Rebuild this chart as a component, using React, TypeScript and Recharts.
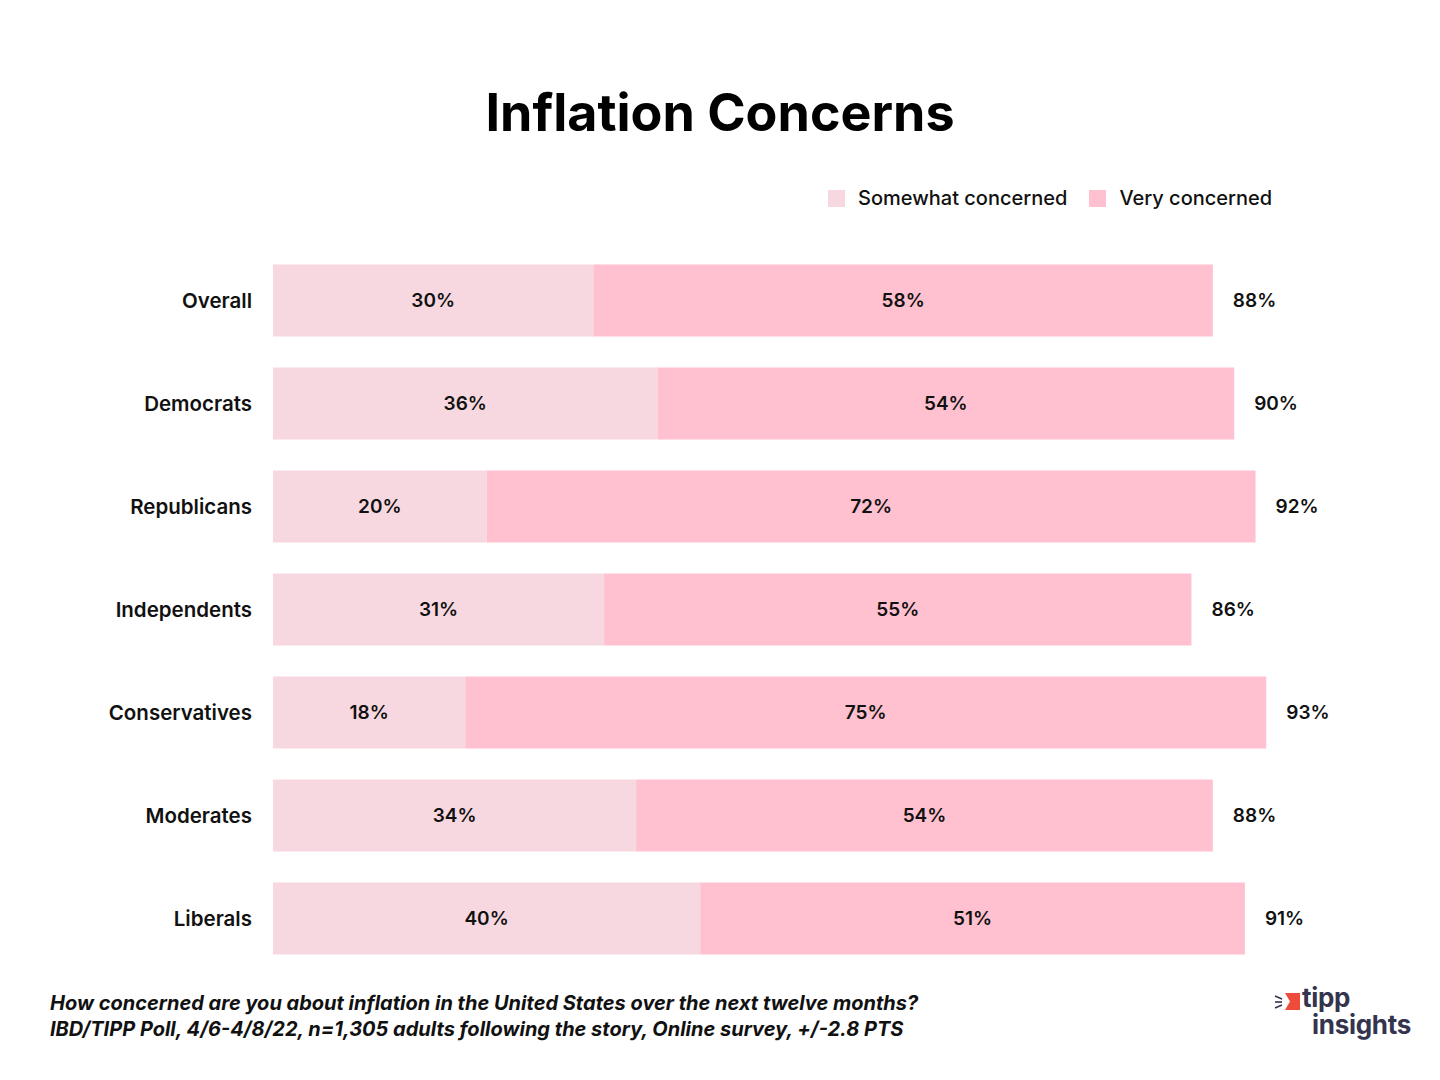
import React from 'react';
import { BarChart, Bar, XAxis, YAxis, LabelList, Legend } from 'recharts';

// Valores
const categories = ['Overall', 'Democrats', 'Republicans', 'Independents', 'Conservatives', 'Moderates', 'Liberals'];
const somewhat = [30, 36, 20, 31, 18, 34, 40];
const very = [58, 54, 72, 55, 75, 54, 51];
const totals = [88, 90, 92, 86, 93, 88, 91];

const colors = {
  somewhat: '#F8D8E0',
  very: '#FFC0CF',
  text: '#111111',
  logo: '#34344e',
  logoRed: '#EE4B3B',
};

const font = 'Inter, "Open Sans", sans-serif';

const data = categories.map((name, i) => ({
  name,
  somewhat: somewhat[i],
  very: very[i],
  total: totals[i],
}));

const legendItems = [
  { label: 'Somewhat concerned', color: colors.somewhat },
  { label: 'Very concerned', color: colors.very },
];

const LegendContent = () => (
  <div style={{ display: 'flex', alignItems: 'center', fontFamily: font, fontSize: 20, fontWeight: 500, color: colors.text, whiteSpace: 'nowrap' }}>
    {legendItems.map((item, i) => (
      <div key={i} style={{ display: 'flex', alignItems: 'center', marginLeft: i ? 22 : 0 }}>
        <span style={{ width: 17, height: 17, background: item.color, display: 'inline-block', marginRight: 13 }} />
        <span>{item.label}</span>
      </div>
    ))}
  </div>
);

const pct = (v: any) => `${v}%`;
const labelStyle = { fontSize: 19, fontWeight: 600, fill: colors.text, fontFamily: font };

export default function App() {
  return (
    <div style={{ position: 'absolute', left: 0, top: 0, width: 1440, height: 1080, background: '#fff', fontFamily: font }}>
      <div
        style={{
          position: 'absolute',
          top: 81,
          left: 0,
          width: 1440,
          textAlign: 'center',
          fontSize: 52,
          fontWeight: 700,
          color: '#000',
          lineHeight: '64px',
        }}
      >
        Inflation Concerns
      </div>

      <BarChart
        width={1440}
        height={1080}
        data={data}
        layout="vertical"
        barCategoryGap="15%"
        margin={{ top: 249, right: 99, left: 73, bottom: 110 }}
      >
        <XAxis type="number" domain={[0, 100]} hide />
        <YAxis
          type="category"
          dataKey="name"
          width={200}
          axisLine={false}
          tickLine={false}
          tickSize={0}
          tickMargin={21}
          tick={{ fontSize: 20.5, fontWeight: 600, fill: colors.text, fontFamily: font }}
        />
        <Legend
          layout="horizontal"
          verticalAlign="middle"
          align="center"
          content={<LegendContent />}
          wrapperStyle={{ position: 'absolute', top: 186, left: 828, width: 'auto' }}
        />
        <Bar dataKey="somewhat" name="Somewhat concerned" stackId="a" fill={colors.somewhat} isAnimationActive={false}>
          <LabelList dataKey="somewhat" position="center" formatter={pct} style={labelStyle} />
        </Bar>
        <Bar dataKey="very" name="Very concerned" stackId="a" fill={colors.very} isAnimationActive={false}>
          <LabelList dataKey="very" position="center" formatter={pct} style={labelStyle} />
          <LabelList dataKey="total" position="right" offset={20} formatter={pct} style={labelStyle} />
        </Bar>
      </BarChart>

      <div
        style={{
          position: 'absolute',
          left: 50,
          top: 990,
          fontSize: 20,
          fontStyle: 'italic',
          fontWeight: 700,
          color: '#111',
          lineHeight: '26px',
          whiteSpace: 'nowrap',
        }}
      >
        How concerned are you about inflation in the United States over the next twelve months?
        <br />
        IBD/TIPP Poll, 4/6-4/8/22, n=1,305 adults following the story, Online survey, +/-2.8 PTS
      </div>

      {/* logo */}
      <div style={{ position: 'absolute', left: 1274, top: 984, width: 150, height: 60 }}>
        <svg width={30} height={24} style={{ position: 'absolute', left: 0, top: 7 }}>
          <line x1={1} y1={5} x2={8} y2={8} stroke={colors.logo} strokeWidth={1.6} />
          <line x1={1} y1={11} x2={8} y2={11} stroke={colors.logo} strokeWidth={1.6} />
          <line x1={1} y1={17} x2={8} y2={14} stroke={colors.logo} strokeWidth={1.6} />
          <polygon points="11,2 26,2 26,19 11,19 16,10.5" fill={colors.logoRed} />
        </svg>
        <div
          style={{
            position: 'absolute',
            left: 28,
            top: 0,
            fontSize: 26,
            fontWeight: 700,
            color: colors.logo,
            lineHeight: '27px',
            letterSpacing: -0.3,
            whiteSpace: 'nowrap',
          }}
        >
          tipp
          <br />
          <span style={{ marginLeft: 10 }}>insights</span>
        </div>
      </div>
    </div>
  );
}
